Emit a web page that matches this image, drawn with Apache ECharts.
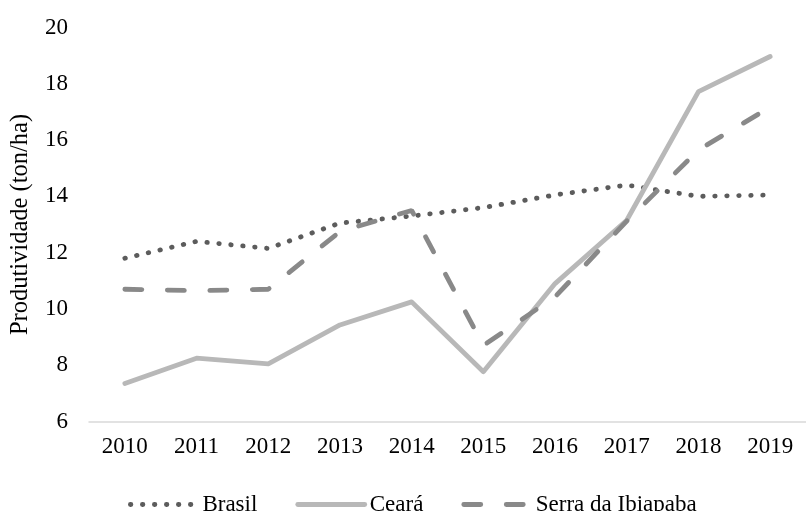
<!DOCTYPE html>
<html>
<head>
<meta charset="utf-8">
<script src="https://cdn.jsdelivr.net/npm/echarts@6/dist/echarts.min.js"></script>
<style>
html,body{margin:0;padding:0;background:#fff;}
#c{width:806px;height:511px;}
</style>
</head>
<body>
<div id="c"></div>
<script>
const years = ['2010','2011','2012','2013','2014','2015','2016','2017','2018','2019'];
const brasil = [11.8, 12.4, 12.15, 13.05, 13.3, 13.6, 14.05, 14.4, 14.0, 14.05];
const ceara = [7.35, 8.25, 8.05, 9.43, 10.25, 7.77, 10.9, 13.15, 17.72, 18.97];
const serra = [10.7, 10.65, 10.7, 12.75, 13.5, 8.7, 10.43, 13.12, 15.65, 17.17];
const yTicks = [6, 8, 10, 12, 14, 16, 18, 20];

const FONT = '"Liberation Serif", "Times New Roman", serif';
const styles = {
  'Brasil': {color: '#5c5c5c', width: 4.8, type: [0.5, 11.5], cap: 'round'},
  'Ceará': {color: '#b8b8b8', width: 4.8, type: 'solid', cap: 'round', join: 'round'},
  'Serra da Ibiapaba': {color: '#898989', width: 4.8, type: [17, 25.5], cap: 'round'}
};
const chart = echarts.init(document.getElementById('c'), null, {renderer: 'canvas'});
chart.setOption({
  animation: false,
  backgroundColor: '#ffffff',
  textStyle: {fontFamily: FONT},
  grid: {left: 89, top: 27.5, bottom: 89.5, width: 726, containLabel: false},
  legend: {
    left: 123, top: 488,
    itemWidth: 67, itemHeight: 24, itemGap: 38,
    itemStyle: {opacity: 0, borderWidth: 0},
    textStyle: {fontFamily: FONT, fontSize: 23, color: '#000'},
    data: Object.keys(styles).map(n => ({name: n, lineStyle: styles[n], itemStyle: {opacity: 0, borderWidth: 0}}))
  },
  xAxis: {
    type: 'category',
    data: years,
    boundaryGap: true,
    axisLine: {lineStyle: {color: '#d9d9d9', width: 1.5}},
    axisTick: {show: false},
    axisLabel: {fontFamily: FONT, fontSize: 23, color: '#000', margin: 14}
  },
  yAxis: {
    type: 'value',
    min: yTicks[0], max: yTicks[yTicks.length - 1], interval: 2,
    name: 'Produtividade (ton/ha)',
    nameLocation: 'middle',
    nameGap: 56,
    nameTextStyle: {fontFamily: FONT, fontSize: 24.5, color: '#000'},
    axisLine: {show: false},
    axisTick: {show: false},
    splitLine: {show: false},
    axisLabel: {fontFamily: FONT, fontSize: 23, color: '#000', margin: 21}
  },
  series: [
    {name: 'Brasil', type: 'line', data: brasil, symbol: 'none', showSymbol: false,
     color: styles['Brasil'].color, lineStyle: styles['Brasil']},
    {name: 'Ceará', type: 'line', data: ceara, symbol: 'none', showSymbol: false,
     color: styles['Ceará'].color, lineStyle: styles['Ceará']},
    {name: 'Serra da Ibiapaba', type: 'line', data: serra, symbol: 'none', showSymbol: false,
     color: styles['Serra da Ibiapaba'].color, lineStyle: styles['Serra da Ibiapaba']}
  ]
});
</script>
</body>
</html>
